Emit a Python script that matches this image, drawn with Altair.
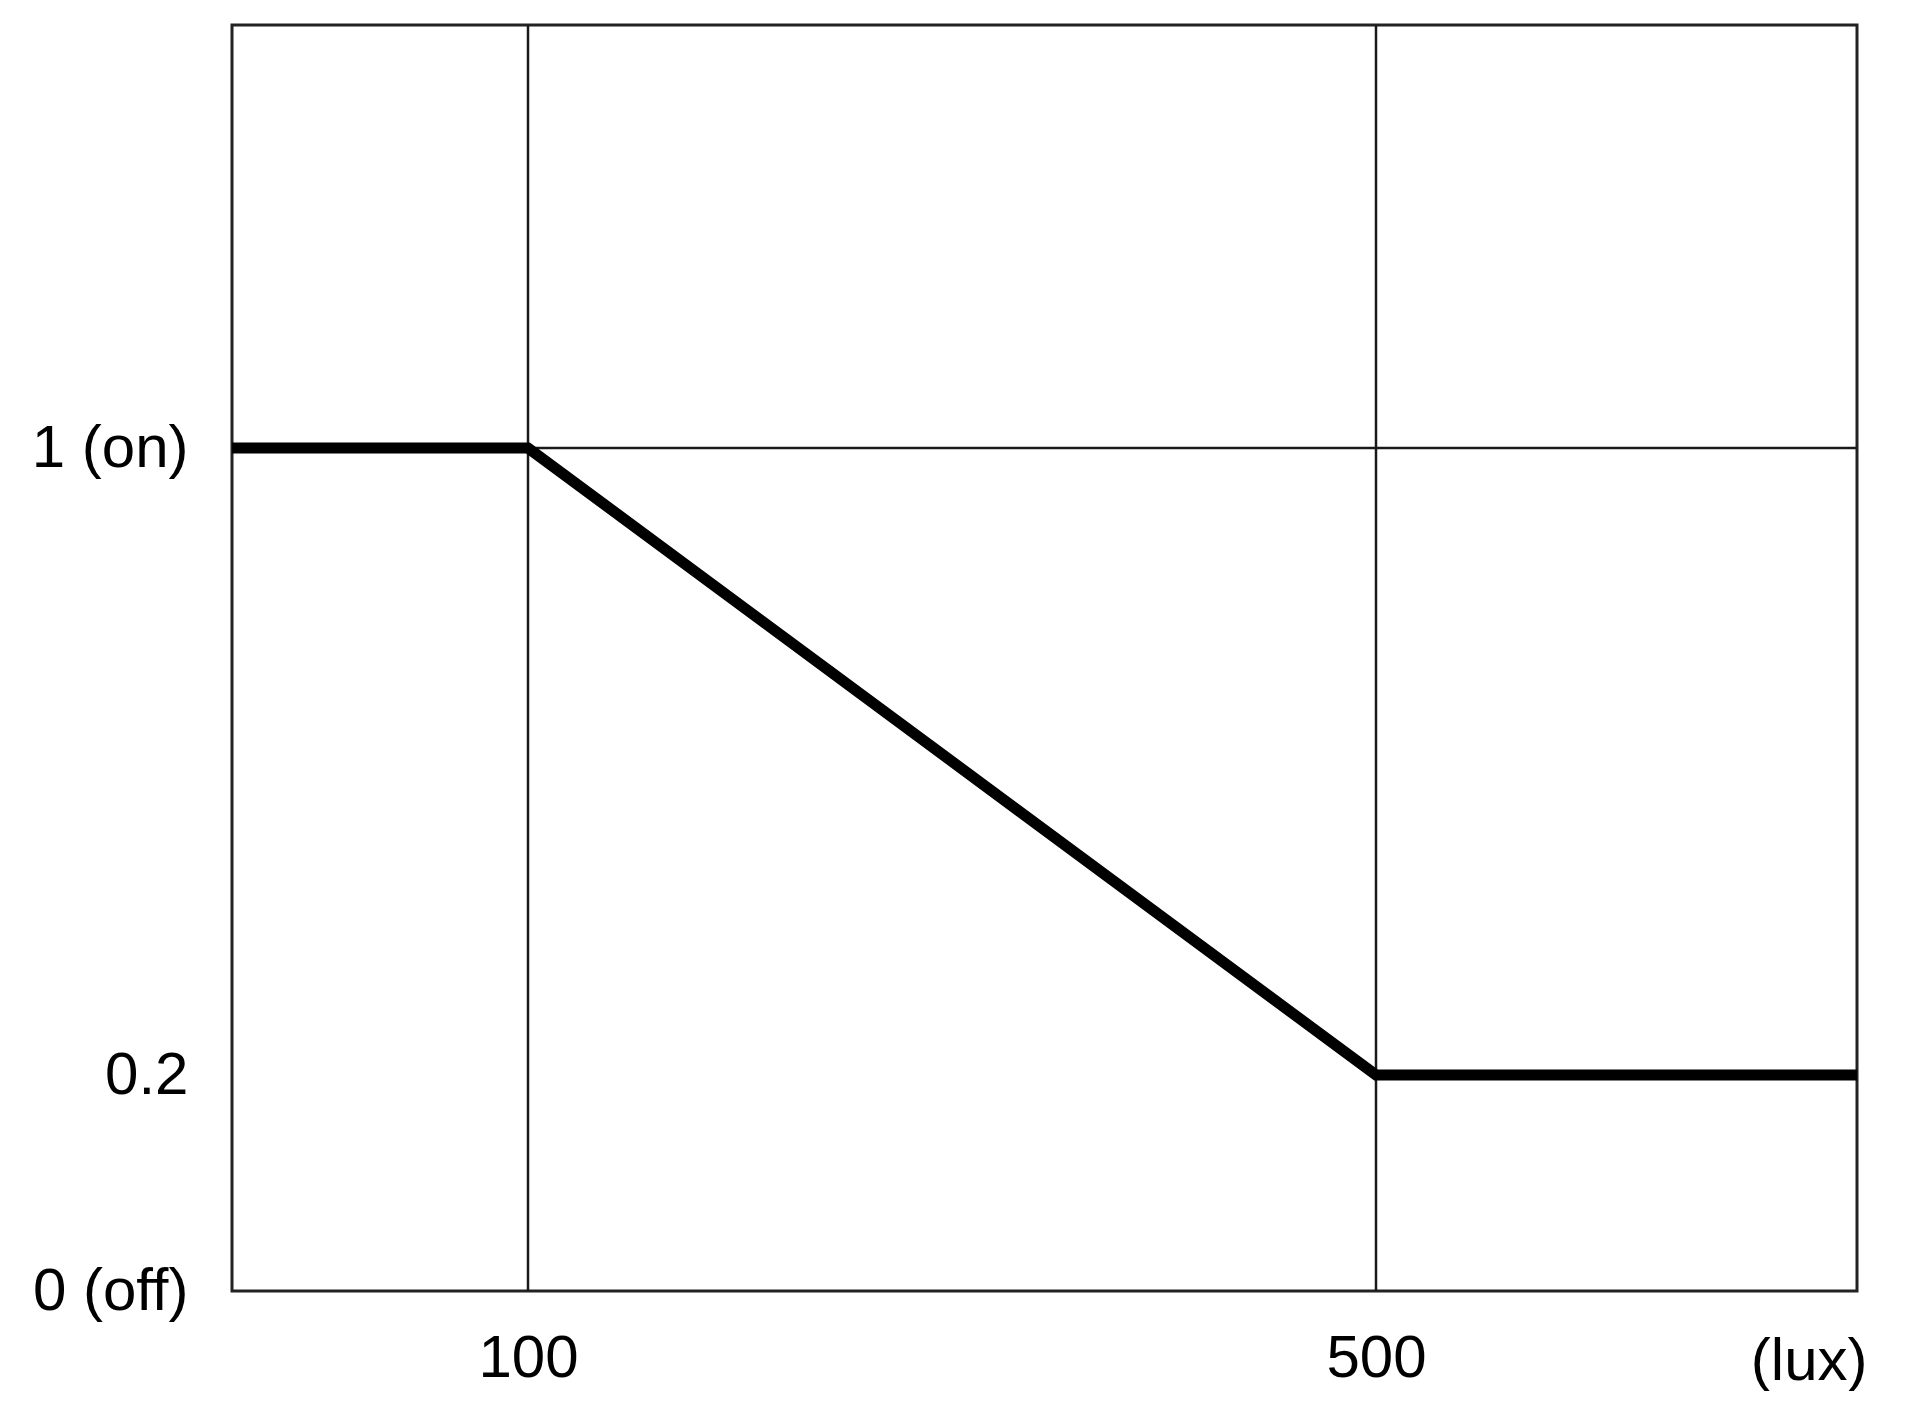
import altair as alt
import pandas as pd

# Data
curve_x = [0, 100, 500, 700]
curve_y = [1, 1, 0.2, 0.2]

x_ticks = [100, 500]
x_tick_labels = ["100", "500"]
y_ticks = [0, 0.2, 1]
y_tick_labels = ["0 (off)", "0.2", "1 (on)"]
grid_x = [100, 500]
grid_y = [1]
x_unit = "(lux)"

W, H = 1625, 1266
FS = 60

curve = pd.DataFrame({"x": curve_x, "y": curve_y})
gx = pd.DataFrame({"x": grid_x})
gy = pd.DataFrame({"y": grid_y})

x_scale = alt.Scale(domain=[0, 100, 500, 700], range=[0, 296, 1144, W], nice=False, zero=False)
y_scale = alt.Scale(domain=[0, 0.2, 1, 1.5], range=[H, 1050, 423, 0], nice=False, zero=False)

def label_expr(vals, labels):
    expr = "''"
    for v, l in zip(vals, labels):
        expr = f"datum.value == {v} ? '{l}' : ({expr})"
    return expr

x_axis = alt.Axis(values=x_ticks, labelExpr=label_expr(x_ticks, x_tick_labels), grid=False,
                  ticks=False, domain=False, labelFontSize=FS, labelFont="Liberation Sans",
                  labelColor="black", labelPadding=38, labelFlush=False, labelOverlap=False,
                  title=x_unit, titleFontSize=FS, titleFont="Liberation Sans", titleFontWeight="normal",
                  titleColor="black", titleAnchor="end", titleAlign="right", titleBaseline="alphabetic",
                  titleX=1635, titleY=88)
y_axis = alt.Axis(values=y_ticks, labelExpr=label_expr(y_ticks, y_tick_labels), grid=False,
                  ticks=False, domain=False, labelFontSize=FS, labelFont="Liberation Sans",
                  labelColor="black", labelPadding=44, labelFlush=False, labelOverlap=False,
                  labelAlign="right", labelBaseline="middle", title=None)

grid_v = alt.Chart(gx).mark_rule(color="#1a1a1a", strokeWidth=2.5).encode(
    x=alt.X("x:Q", scale=x_scale, axis=x_axis)
)
grid_h = alt.Chart(gy).mark_rule(color="#1a1a1a", strokeWidth=2.5).encode(
    y=alt.Y("y:Q", scale=y_scale, axis=y_axis)
)
line = alt.Chart(curve).mark_line(color="black", strokeWidth=11, strokeJoin="miter").encode(
    x=alt.X("x:Q", scale=x_scale, axis=x_axis),
    y=alt.Y("y:Q", scale=y_scale, axis=y_axis),
)

chart = alt.layer(grid_v, grid_h, line).properties(
    width=W, height=H,
    autosize=alt.AutoSizeParams(type="none"),
    padding={"left": 224, "top": 17, "right": 45, "bottom": 100},
    background="white",
).configure_view(stroke="#222222", strokeWidth=3)

chart.save("out.html", embed_options={"renderer": "svg", "actions": False})
